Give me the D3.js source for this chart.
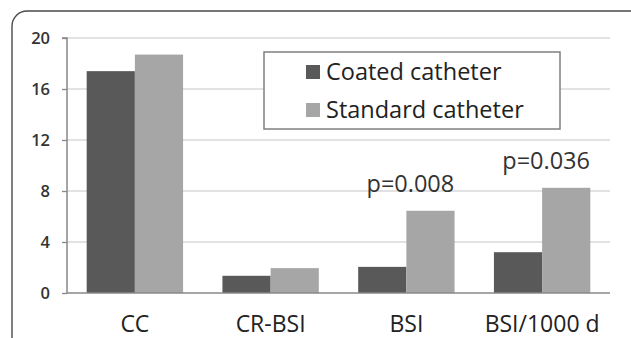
<!DOCTYPE html>
<html><head><meta charset="utf-8">
<script src="https://cdn.jsdelivr.net/npm/d3@7"></script>
<style>
html,body{margin:0;padding:0;background:#fff;}
svg{display:block;}
text{font-family:"Open Sans",sans-serif;}
</style></head>
<body>
<svg id="c" width="631" height="338"></svg>
<script>
const categories = ["CC", "CR-BSI", "BSI", "BSI/1000 d"];
const seriesNames = ["Coated catheter", "Standard catheter"];
const coated = [17.4, 1.35, 2.05, 3.2];
const standard = [18.7, 1.95, 6.45, 8.25];
const yTicks = [0, 4, 8, 12, 16, 20];
const annotations = [{cat: "BSI", text: "p=0.008"}, {cat: "BSI/1000 d", text: "p=0.036"}];

const colors = ["#595959", "#a6a6a6"];
const svg = d3.select("#c");

// frame
svg.append("rect").attr("x", 12).attr("y", 11).attr("width", 640).attr("height", 360)
  .attr("rx", 15).attr("fill", "none").attr("stroke", "#4a4a4a").attr("stroke-width", 1.4);

const pLeft = 67, pRight = 610, pTop = 38, pBottom = 293;
const x = d3.scaleBand().domain(categories).range([pLeft, pRight]).paddingInner(0.29).paddingOuter(0.145);
const xs = d3.scaleBand().domain(seriesNames).range([0, x.bandwidth()]);
const y = d3.scaleLinear().domain([0, 20]).range([pBottom, pTop]);

// gridlines
svg.append("g").selectAll("line").data(yTicks.filter(d => d > 0)).join("line")
  .attr("x1", pLeft).attr("x2", pRight).attr("y1", d => y(d)).attr("y2", d => y(d))
  .attr("stroke", "#d9d9d9").attr("stroke-width", 1.5);

// y axis
const yAxis = d3.axisLeft(y).tickValues(yTicks).tickSize(5).tickPadding(12);
const ga = svg.append("g").attr("transform", `translate(${pLeft},0)`).call(yAxis);
ga.select(".domain").attr("stroke", "#888").attr("stroke-width", 1.5).attr("d", `M-5,${pTop}H0V${pBottom}`);
ga.selectAll(".tick line").attr("stroke", "#888").attr("stroke-width", 1.3);
ga.selectAll(".tick text").attr("font-size", 16.5).attr("fill", "#333").attr("font-family", "Open Sans, sans-serif")
  .attr("font-weight", 600);

// bars
const data = categories.map((c, i) => ({cat: c, vals: [coated[i], standard[i]]}));
const groups = svg.append("g").selectAll("g").data(data).join("g")
  .attr("transform", d => `translate(${x(d.cat)},0)`);
groups.selectAll("rect").data(d => d.vals.map((v, j) => ({v, s: seriesNames[j], j}))).join("rect")
  .attr("x", d => xs(d.s)).attr("width", xs.bandwidth())
  .attr("y", d => y(d.v)).attr("height", d => y(0) - y(d.v))
  .attr("fill", d => colors[d.j]);

// x axis line
svg.append("line").attr("x1", pLeft).attr("x2", pRight).attr("y1", pBottom).attr("y2", pBottom)
  .attr("stroke", "#888").attr("stroke-width", 1.5);

// category labels
svg.append("g").selectAll("text").data(categories).join("text")
  .attr("x", d => x(d) + x.bandwidth() / 2).attr("y", 332)
  .attr("text-anchor", "middle").attr("font-size", 23).attr("fill", "#222").text(d => d);

// annotations
svg.append("g").selectAll("text").data(annotations).join("text")
  .attr("x", d => x(d.cat) + x.bandwidth() / 2 + 4).attr("y", (d, i) => i === 0 ? 191.5 : 169)
  .attr("text-anchor", "middle").attr("font-size", 23.5).attr("fill", "#333").text(d => d.text);

// legend
const lg = svg.append("g");
lg.append("rect").attr("x", 264).attr("y", 52).attr("width", 296).attr("height", 77)
  .attr("fill", "#fff").attr("stroke", "#7f7f7f").attr("stroke-width", 1.5);
seriesNames.forEach((s, i) => {
  lg.append("rect").attr("x", 306).attr("y", 65 + i * 38).attr("width", 14).attr("height", 14).attr("fill", colors[i]);
  lg.append("text").attr("x", 326).attr("y", 79.5 + i * 38).attr("font-size", 23.5).attr("fill", "#222").text(s);
});
</script>
</body></html>
